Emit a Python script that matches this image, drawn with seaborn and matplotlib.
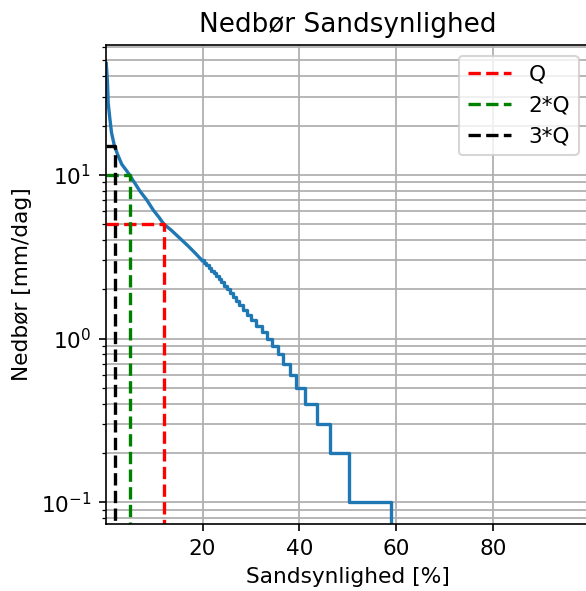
import numpy as np
import pandas as pd
import seaborn as sns
import matplotlib
matplotlib.use("Agg")
from matplotlib import pyplot as plt

# overskridelses-sandsynlighed [%] og nedbør [mm/dag], aflæst fra kurven
# glat del (store værdier)
p_glat = [0.1, 0.35, 0.5, 0.85, 1.2, 1.8, 2.5, 3.3, 4.3, 4.9, 6.0, 7.0, 8.5,
          9.8, 11.0, 12.0, 13.5, 15.3, 17.0, 18.5, 19.9]
q_glat = [48, 37, 27.5, 22, 18, 15.0, 13.2, 11.6, 10.6, 10.0, 8.9, 8.0, 7.0,
          6.1, 5.5, 5.0, 4.6, 4.1, 3.68, 3.32, 3.0]

# trappe-del (0.1 mm opløsning)
p_trin = [19.9, 20.4, 20.8, 21.3, 21.8, 22.3, 22.8, 23.3, 23.8, 24.4,
          25.0, 25.6, 26.2, 26.9, 27.6, 28.4, 29.2, 30.1, 31.1, 32.2,
          33.3, 34.4, 35.5, 36.7, 38.0, 39.4, 41.2, 43.6, 46.3, 50.3,
          58.9, 99.95]
q_trin = [3.0, 2.9, 2.8, 2.7, 2.6, 2.5, 2.4, 2.3, 2.2, 2.1,
          2.0, 1.9, 1.8, 1.7, 1.6, 1.5, 1.4, 1.3, 1.2, 1.1,
          1.0, 0.9, 0.8, 0.7, 0.6, 0.5, 0.4, 0.3, 0.2, 0.1,
          0.0, 0.0]

# Q-linjer
navne = ["Q", "2*Q", "3*Q"]
q_vaerdi = [5, 10, 15]
p_vaerdi = [12.0, 5.0, 2.0]
farver = ["r", "g", "k"]

plt.rcParams["font.size"] = 10.4
plt.rcParams["axes.titlesize"] = 12.6
plt.rcParams["lines.linewidth"] = 1.6
plt.rcParams["grid.linewidth"] = 0.85

fig = plt.figure(figsize=(586 / 150, 591 / 150), dpi=150)
ax = fig.add_axes([106 / 586, 1 - 524 / 591, 483.5 / 586, (524 - 45) / 591])

sns.lineplot(x=p_glat, y=q_glat, ax=ax, color="C0", estimator=None, sort=False)
sns.lineplot(x=p_trin, y=q_trin, ax=ax, color="C0", estimator=None, sort=False,
             drawstyle="steps-post")

for navn, q, p, c in zip(navne, q_vaerdi, p_vaerdi, farver):
    ax.plot([0, p, p], [q, q, 0.001], "--", color=c, label=navn)

ax.set_yscale("log")
ax.set_xlim(0.05, 99.95)
ax.set_ylim(10 ** -1.133, 10 ** 1.793)
ax.grid(True, which="both")
ax.legend(loc="upper right")
ax.set_title("Nedbør Sandsynlighed")
ax.set_xlabel("Sandsynlighed [%]")
ax.set_ylabel("Nedbør [mm/dag]")

fig.savefig("out.png", dpi=150)
